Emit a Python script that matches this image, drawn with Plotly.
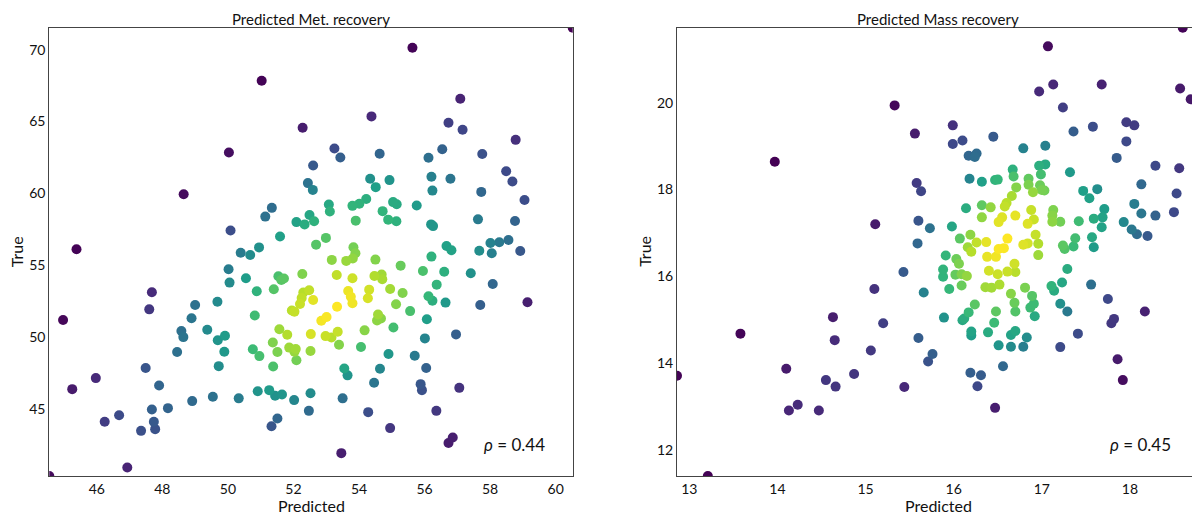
import numpy as np
import plotly.graph_objects as go

# ---------------- data ----------------
met_pred = [
    44.55, 60.52, 55.63, 51.03, 57.09, 54.38, 52.28, 56.73, 57.16, 50.03,
    58.78, 53.25, 53.43, 54.63, 56.54, 56.12, 57.76, 52.60, 48.65, 58.49,
    58.68, 52.44, 52.59, 54.34, 54.51, 54.93, 56.21, 56.79, 56.24, 57.73,
    59.05, 51.34, 51.14, 53.08, 53.11, 53.80, 54.01, 54.22, 55.04, 55.15,
    55.76, 54.72, 50.08, 52.09, 52.34, 52.49, 52.63, 53.90, 54.89, 55.14,
    56.20, 56.26, 57.63, 58.76, 51.59, 52.69, 52.99, 53.83, 53.89, 53.81,
    53.61, 53.17, 54.50, 50.39, 50.68, 50.95, 58.01, 58.28, 58.56, 58.92,
    57.67, 58.05, 56.67, 56.82, 56.21, 55.27, 50.02, 50.05, 50.55, 50.88,
    50.82, 51.54, 51.63, 51.71, 52.27, 51.40, 52.30, 52.48, 52.25, 52.20,
    52.60, 51.95, 52.03, 52.85, 53.01, 53.32, 53.80, 54.47, 54.69, 54.71,
    54.95, 55.33, 55.13, 55.56, 55.95, 56.60, 56.37, 57.41, 58.08, 56.12,
    56.24, 56.64, 57.70, 59.14, 53.67, 53.75, 53.80, 53.33, 54.31, 54.27,
    54.58, 54.67, 54.55, 55.05, 56.07, 54.17, 52.53, 52.98, 53.16, 53.35,
    53.39, 54.06, 52.52, 56.01, 56.96, 54.90, 55.70, 53.55, 53.65, 54.64,
    56.05, 54.46, 55.88, 55.92, 57.06, 52.52, 53.50, 52.47, 54.28, 56.36,
    54.95, 56.73, 56.86, 53.46, 47.68, 47.60, 44.97, 49.00, 49.68, 48.89,
    48.58, 48.64, 49.37, 49.69, 49.91, 48.45, 49.89, 49.72, 51.57, 51.81,
    51.37, 51.51, 50.76, 50.96, 51.87, 52.07, 52.03, 51.38, 52.09, 47.49,
    45.97, 45.25, 47.90, 50.91, 51.26, 51.44, 51.65, 52.02, 50.33, 49.54,
    48.91, 48.17, 47.68, 47.74, 47.78, 47.35, 46.68, 46.24, 51.51, 51.33,
    46.93, 45.38,
]
met_true = [
    40.35, 71.53, 70.14, 67.84, 66.59, 65.36, 64.57, 64.92, 64.43, 62.85,
    63.73, 63.13, 62.50, 62.76, 63.08, 62.48, 62.74, 61.94, 59.95, 61.55,
    60.83, 60.72, 60.25, 61.02, 60.44, 60.93, 61.16, 61.03, 60.20, 60.11,
    59.55, 59.00, 58.39, 59.23, 58.75, 59.14, 59.29, 59.62, 59.40, 59.25,
    59.16, 58.77, 57.42, 58.01, 57.85, 58.50, 58.07, 58.11, 58.18, 58.07,
    57.85, 57.73, 58.20, 58.09, 57.01, 56.44, 56.91, 56.26, 55.84, 55.48,
    55.31, 55.38, 55.40, 55.88, 55.72, 56.25, 56.56, 56.61, 56.77, 56.00,
    56.02, 55.84, 56.35, 56.05, 55.61, 54.98, 54.73, 53.80, 54.10, 53.20,
    51.51, 54.24, 53.98, 54.09, 54.40, 53.34, 53.11, 53.27, 52.73, 52.31,
    52.59, 51.86, 51.78, 51.15, 51.41, 54.33, 54.10, 54.26, 54.37, 54.04,
    53.36, 53.08, 52.29, 51.82, 54.61, 54.56, 53.66, 54.45, 53.70, 52.85,
    52.54, 52.41, 52.24, 52.43, 53.22, 52.82, 52.36, 52.12, 53.31, 52.71,
    51.58, 51.30, 51.16, 50.68, 51.25, 50.48, 50.22, 50.08, 49.98, 50.38,
    49.48, 49.32, 49.04, 49.92, 50.20, 48.83, 48.71, 47.83, 47.35, 47.81,
    47.86, 46.83, 46.74, 46.32, 46.48, 46.10, 45.75, 44.88, 44.79, 44.88,
    43.68, 42.65, 43.03, 41.94, 53.13, 51.94, 51.20, 52.24, 52.47, 51.32,
    50.43, 50.01, 50.52, 49.79, 50.10, 48.97, 48.99, 47.99, 50.56, 50.17,
    49.63, 48.98, 49.16, 48.69, 49.28, 49.18, 48.99, 47.97, 48.40, 47.86,
    47.16, 46.39, 46.65, 46.25, 46.32, 45.93, 46.02, 45.63, 45.75, 45.86,
    45.56, 45.07, 44.98, 44.12, 43.61, 43.49, 44.58, 44.12, 44.35, 43.81,
    40.94, 56.12,
]

mass_pred = [
    18.60, 18.79, 17.07, 17.13, 16.97, 17.68, 17.24, 18.57, 18.69, 15.33,
    15.56, 13.97, 15.99, 15.99, 16.10, 16.45, 17.36, 17.58, 17.96, 18.05,
    17.96, 17.85, 16.17, 16.26, 16.24, 16.79, 17.04, 16.97, 17.04, 17.32,
    16.67, 16.68, 16.99, 18.29, 18.56, 15.58, 15.63, 16.18, 16.32, 16.47,
    16.50, 16.85, 16.85, 16.98, 17.00, 17.03, 16.71, 16.90, 17.47, 17.63,
    17.54, 18.13, 18.53, 16.66, 16.60, 16.58, 16.14, 16.32, 16.42, 16.32,
    16.55, 16.51, 16.70, 16.88, 16.91, 16.84, 17.13, 17.12, 17.12, 17.21,
    17.42, 17.59, 17.69, 17.71, 17.68, 18.05, 18.13, 18.29, 18.50, 17.93,
    18.02, 18.08, 18.20, 15.60, 15.11, 15.73, 15.98, 15.59, 16.07, 16.19,
    16.26, 16.37, 16.16, 16.20, 16.61, 16.51, 16.57, 16.79, 16.84, 16.93,
    16.96, 17.24, 17.26, 17.36, 17.38, 17.57, 17.59, 15.91, 16.03, 16.06,
    16.38, 16.48, 16.96, 15.88, 15.88, 16.02, 16.09, 16.15, 16.09, 15.95,
    16.40, 16.50, 16.61, 16.69, 16.70, 16.36, 16.43, 16.52, 16.81, 16.65,
    16.89, 16.69, 16.70, 16.91, 16.87, 16.92, 16.24, 16.17, 16.12, 16.10,
    16.48, 16.46, 16.20, 16.20, 16.39, 16.65, 16.70, 16.83, 16.51, 16.65,
    16.79, 17.11, 17.14, 17.23, 17.29, 17.21, 17.29, 17.56, 17.75, 17.82,
    17.79, 18.17, 17.41, 17.21, 15.43, 15.10, 15.66, 15.20, 15.89, 15.60,
    15.06, 15.76, 15.71, 16.19, 16.31, 16.27, 16.56, 16.47, 15.44, 17.86,
    17.92, 14.63, 13.58, 14.65, 14.10, 14.87, 12.86, 14.55, 14.66, 14.23,
    14.13, 14.47, 13.21,
]
mass_true = [
    21.73, 16.91, 21.30, 20.42, 20.26, 20.42, 19.89, 20.33, 20.08, 19.94,
    19.29, 18.64, 19.48, 19.05, 19.13, 19.22, 19.34, 19.45, 19.55, 19.48,
    19.11, 18.73, 18.78, 18.83, 18.75, 18.95, 19.01, 18.55, 18.58, 18.40,
    18.46, 18.30, 18.35, 18.55, 18.49, 18.15, 17.96, 18.25, 18.18, 18.22,
    18.23, 18.25, 18.11, 18.10, 17.99, 17.98, 18.05, 17.94, 17.97, 18.01,
    17.80, 18.12, 17.91, 17.85, 17.69, 17.61, 17.57, 17.64, 17.59, 17.36,
    17.36, 17.25, 17.40, 17.53, 17.31, 17.21, 17.53, 17.40, 17.26, 17.26,
    17.27, 17.33, 17.36, 17.55, 17.13, 17.67, 17.45, 17.40, 17.48, 17.25,
    17.08, 16.97, 16.93, 17.28, 17.20, 17.11, 17.15, 16.76, 16.87, 16.96,
    16.78, 16.79, 16.67, 16.57, 16.87, 16.63, 16.65, 16.73, 16.76, 16.96,
    16.75, 16.71, 16.63, 16.69, 16.88, 16.90, 16.67, 16.48, 16.40, 16.29,
    16.45, 16.45, 16.49, 16.16, 15.99, 16.04, 16.05, 16.01, 15.79, 15.71,
    16.13, 16.05, 16.11, 16.29, 16.10, 15.75, 15.74, 15.81, 15.74, 15.60,
    15.55, 15.39, 15.19, 15.37, 15.28, 15.08, 15.35, 15.17, 15.03, 14.99,
    15.19, 14.93, 14.73, 14.64, 14.71, 14.65, 14.74, 14.59, 14.41, 14.38,
    14.38, 15.78, 15.67, 15.86, 16.17, 15.37, 15.19, 15.81, 15.48, 15.02,
    14.92, 15.19, 14.68, 14.37, 16.10, 15.71, 15.63, 14.92, 15.05, 14.58,
    14.29, 14.21, 14.04, 13.78, 13.72, 13.47, 13.93, 12.97, 13.45, 14.09,
    13.61, 15.06, 14.68, 14.53, 13.87, 13.75, 13.71, 13.61, 13.46, 13.04,
    12.91, 12.91, 11.40,
]

titles = ["Predicted Met. recovery", "Predicted Mass recovery"]
rho_labels = ["0.44", "0.45"]
met_xticks = [46, 48, 50, 52, 54, 56, 58, 60]
met_yticks = [45, 50, 55, 60, 65, 70]
mass_xticks = [13, 14, 15, 16, 17, 18]
mass_yticks = [12, 14, 16, 18, 20]


def kde_density(x, y):
    """Gaussian KDE (Scott's rule) evaluated at the points themselves."""
    pts = np.vstack([x, y])
    n = pts.shape[1]
    cov = np.cov(pts) * n ** (-2.0 / 6.0)
    inv = np.linalg.inv(cov)
    diff = pts[:, :, None] - pts[:, None, :]
    q = np.einsum("ikl,ij,jkl->kl", diff, inv, diff)
    return np.exp(-0.5 * q).sum(axis=1)


# The page body has an 8px margin, so the figure is laid out 8px smaller and
# every page-pixel position below is converted with OFF.
OFF = 8
W, H = 1200 - OFF, 515 - OFF
panels = [
    dict(x=met_pred, y=met_true, dom=(49.3, 572.7), xt=met_xticks, yt=met_yticks),
    dict(x=mass_pred, y=mass_true, dom=(677.0, 1199.5), xt=mass_xticks, yt=mass_yticks),
]
plot_top, plot_bottom = 27.7, 476.0


def px_x(v):
    return (v - OFF) / W


def px_y(v):
    return 1 - (v - OFF) / H


fig = go.Figure()
font_main = "Lato, 'Open Sans', sans-serif"
axis_common = dict(showgrid=False, zeroline=False, showline=True, mirror=True,
                   linecolor="#444444", linewidth=1, ticks="",
                   tickfont=dict(family=font_main, size=14, color="#111"))

for i, p in enumerate(panels):
    x = np.array(p["x"], dtype=float)
    y = np.array(p["y"], dtype=float)
    d = kde_density(x, y)
    order = np.argsort(d)
    ax = "" if i == 0 else str(i + 1)
    fig.add_trace(go.Scatter(
        x=x[order], y=y[order], mode="markers",
        xaxis="x" + ax, yaxis="y" + ax, showlegend=False,
        marker=dict(size=10, color=d[order], colorscale="Viridis",
                    cmin=d.min(), cmax=d.max(), line=dict(width=0)),
    ))
    dom_x = [px_x(p["dom"][0]), min(px_x(p["dom"][1]), 1.0)]
    dom_y = [px_y(plot_bottom), px_y(plot_top)]
    fig.update_layout(**{
        "xaxis" + ax: dict(axis_common, domain=dom_x, range=[x.min(), x.max()],
                           tickvals=p["xt"], anchor="y" + ax),
        "yaxis" + ax: dict(axis_common, domain=dom_y, range=[y.min(), y.max()],
                           tickvals=p["yt"], anchor="x" + ax),
    })
    cx = (dom_x[0] + dom_x[1]) / 2
    fig.add_annotation(text=titles[i], x=cx, y=1.0, xref="paper", yref="paper",
                       showarrow=False, xanchor="center", yanchor="top",
                       font=dict(family=font_main, size=15, color="#111"))
    fig.add_annotation(text="Predicted", x=cx, y=px_y(505), xref="paper", yref="paper",
                       showarrow=False, xanchor="center", yanchor="middle",
                       font=dict(family=font_main, size=16, color="#111"))
    fig.add_annotation(text="True", x=px_x(p["dom"][0] - 32), y=(dom_y[0] + dom_y[1]) / 2,
                       xref="paper", yref="paper", textangle=-90,
                       showarrow=False, xanchor="center", yanchor="middle",
                       font=dict(family=font_main, size=16, color="#111"))
    fig.add_annotation(text="<i>ρ</i> = " + rho_labels[i], x=0.95, y=0.07,
                       xref="x" + ax + " domain", yref="y" + ax + " domain",
                       showarrow=False, xanchor="right", yanchor="middle",
                       font=dict(family=font_main, size=17, color="#111"))

fig.update_layout(width=W, height=H, margin=dict(l=0, r=0, t=0, b=0),
                  paper_bgcolor="white", plot_bgcolor="white")
fig.write_html("out.html")
